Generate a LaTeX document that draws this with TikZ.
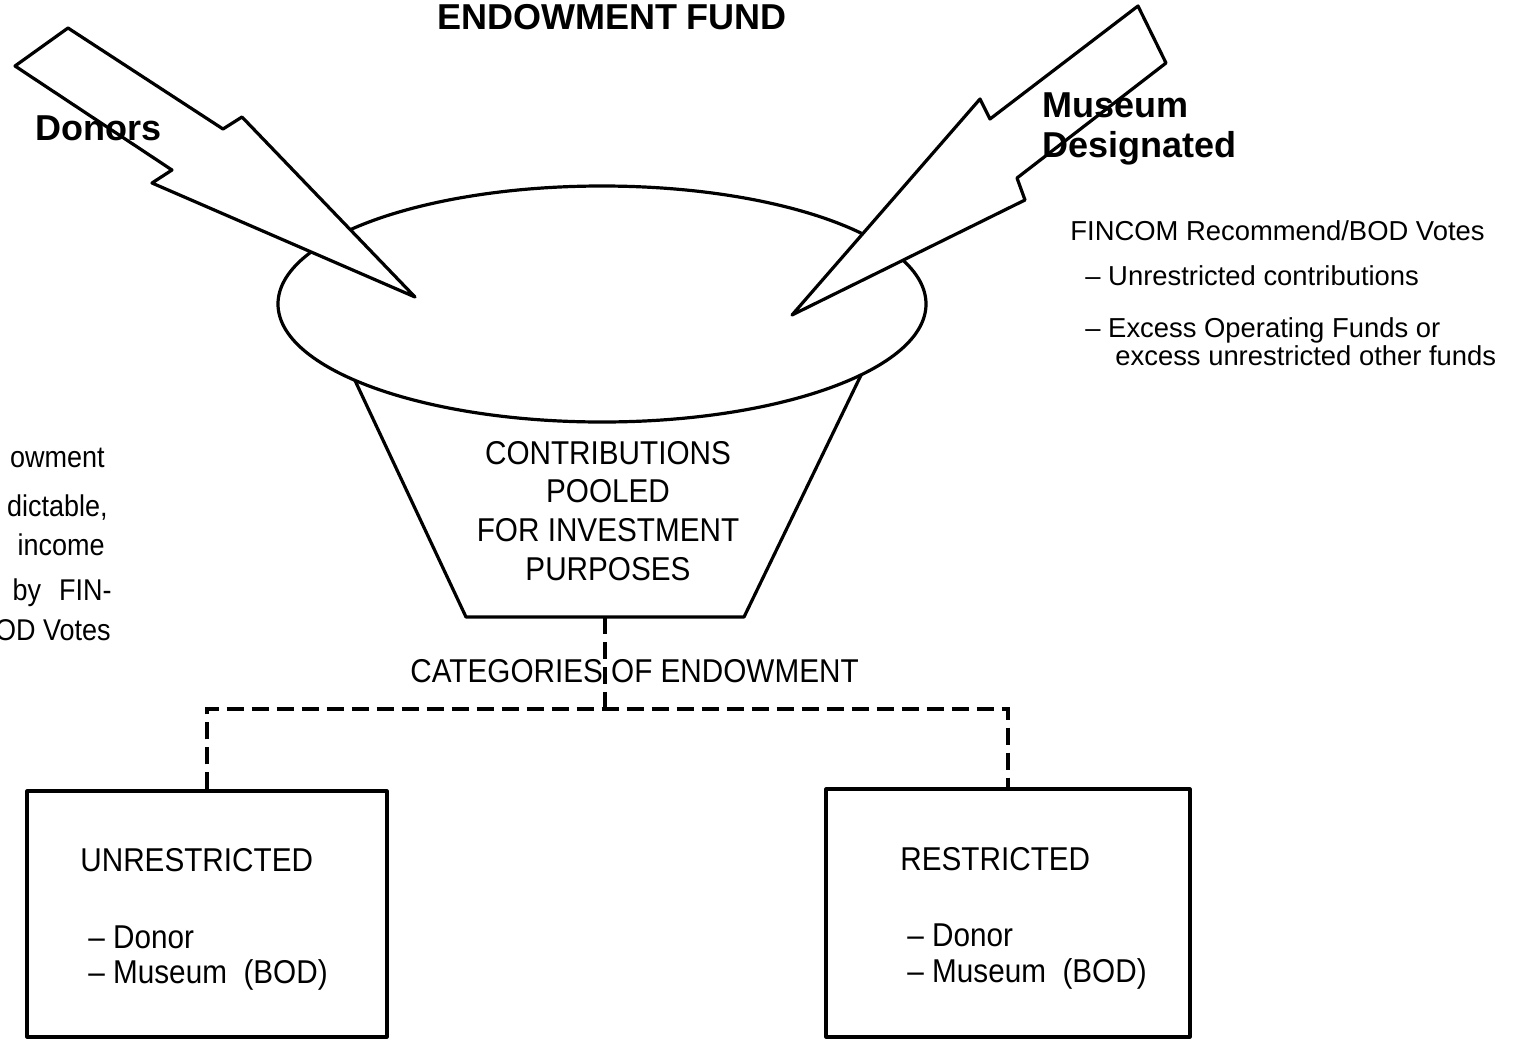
\documentclass[tikz,border=0pt]{standalone}
\usepackage{fontspec}
\setmainfont{Liberation Sans}
\newfontfamily\condsans[FakeStretch=0.9]{Liberation Sans}
\usetikzlibrary{shapes.geometric}

\begin{document}
\begin{tikzpicture}[x=0.5pt,y=-0.5pt,
  outline/.style={line width=1.6pt, line join=round},
  bolt/.style={outline, draw, fill=white},
  boxnode/.style={outline, draw, rectangle, inner sep=0pt},
  dashline/.style={line width=1.6pt, dash pattern=on 8.5pt off 4pt},
  headtext/.style={font=\fontsize{18pt}{20pt}\selectfont\bfseries, inner sep=0pt},
  condtext/.style={font=\condsans\fontsize{16.5pt}{19.4pt}\selectfont, inner sep=0pt},
  notetext/.style={font=\fontsize{13.7pt}{16pt}\selectfont, inner sep=0pt},
  sidetext/.style={font=\condsans\fontsize{15pt}{19pt}\selectfont, inner sep=0pt, anchor=base east},
]
\useasboundingbox (0,0) rectangle (1531,1039);

% funnel body, its upper edge hidden behind the bowl
\draw[outline, fill=white] (336,340) -- (466,617) -- (744,617) -- (878,340) -- cycle;
\coordinate (fbot) at (605,617);

% bowl of the funnel
\node[ellipse, draw, outline, fill=white, minimum width=324pt, minimum height=118pt,
      inner sep=0pt] (bowl) at (602,304) {};

% incoming lightning arrows
\draw[bolt] (68,28) -- (223,129) -- (242,117) -- (415,297) -- (152,183) -- (172,170) -- (15,66) -- cycle;
\draw[bolt] (1138,6) -- (1166,63) -- (1017,178) -- (1025,200) -- (792,315) -- (980,99) -- (990,119) -- cycle;

% headings
\node[headtext, anchor=base] (title) at (612,29) {ENDOWMENT FUND};
\node[headtext, anchor=base west] (donors) at (35,140) {Donors};
\node[headtext, anchor=base west] (museum) at (1042,117) {Museum};
\node[headtext, anchor=base west] (designated) at (1042,157) {Designated};

% notes on museum designation
\node[notetext, anchor=base west] (fincom) at (1070,240) {FINCOM Recommend/BOD Votes};
\node[notetext, anchor=base west] (unres) at (1085,285) {– Unrestricted contributions};
\node[notetext, anchor=base west] (excess) at (1085,337) {– Excess Operating Funds or};
\node[notetext, anchor=base west] (excesstwo) at (1115,365) {excess unrestricted other funds};

% notes at the left margin
\node[sidetext] (sone) at (105,467) {owment};
\node[sidetext] (stwo) at (108,516) {dictable,};
\node[sidetext] (sthree) at (105,555) {income};
\node[sidetext] (sfour) at (112,600) {by\hspace{0.6em}FIN-};
\node[sidetext] (sfive) at (111,640) {OD Votes};

% text in the funnel
\node[condtext, align=center] (pool) at (608,511)
  {CONTRIBUTIONS\\POOLED\\FOR INVESTMENT\\PURPOSES};

\node[condtext, anchor=base west] (cats) at (410,682) {CATEGORIES OF ENDOWMENT};

% category boxes
\node[boxnode, minimum width=180pt, minimum height=123pt] (lbox) at (207,914) {};
\node[boxnode, minimum width=182pt, minimum height=124pt] (rbox) at (1008,913) {};

% dashed tree
\coordinate (bus) at (605,709);
\draw[dashline] (fbot) -- (bus);
\draw[dashline] (lbox.north) |- (bus) -| (rbox.north);

% box contents
\node[condtext, anchor=base west] (lhead) at (80,871) {UNRESTRICTED};
\node[condtext, anchor=base west] (ldonor) at (88,948) {– Donor};
\node[condtext, anchor=base west] (lmuseum) at (88,983) {– Museum~ (BOD)};
\node[condtext, anchor=base west] (rhead) at (900,870) {RESTRICTED};
\node[condtext, anchor=base west] (rdonor) at (907,946) {– Donor};
\node[condtext, anchor=base west] (rmuseum) at (907,982) {– Museum~ (BOD)};
\end{tikzpicture}
\end{document}
